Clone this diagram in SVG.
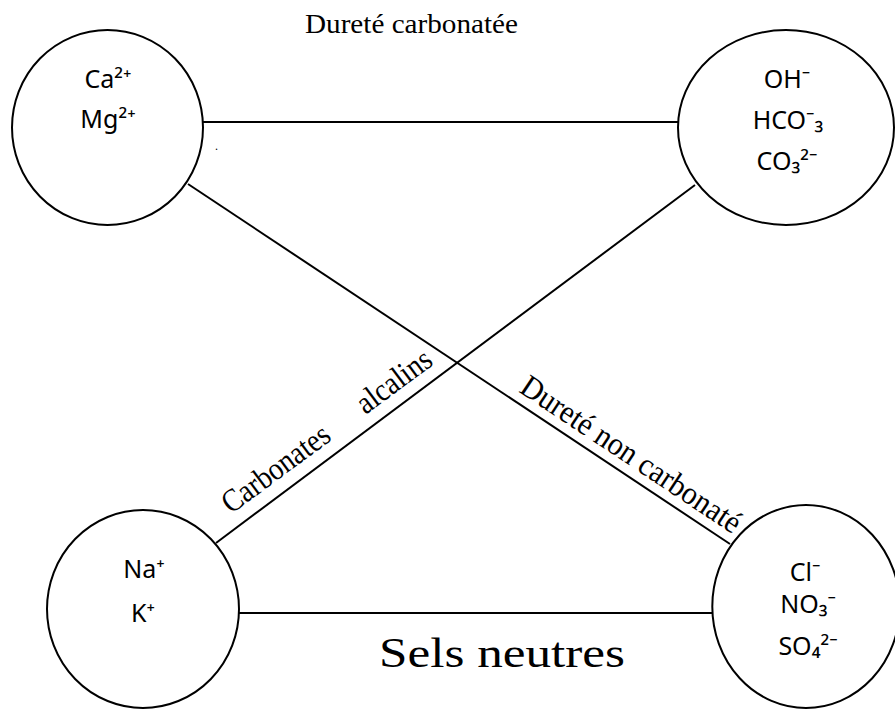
<svg xmlns="http://www.w3.org/2000/svg" width="895" height="709" viewBox="0 0 895 709">
<style>
.node{fill:#fff;stroke:#000;stroke-width:2}
.ion{font-family:"Noto Sans","DejaVu Sans",sans-serif;font-size:25px;fill:#000;text-anchor:middle}
.lbl{font-family:"Liberation Serif","Times New Roman",serif;fill:#000}
.edge{stroke:#000;stroke-width:2;fill:none}
</style>
<rect width="895" height="709" fill="#fff"/>
<g id="connectors">
<line class="edge" x1="203" y1="122" x2="678" y2="122"/>
<line class="edge" x1="239" y1="613" x2="712" y2="613"/>
<line class="edge" x1="188" y1="184" x2="730" y2="544"/>
<line class="edge" x1="216" y1="543" x2="695" y2="185"/>
</g>
<g id="node-cations-ca-mg">
<ellipse class="node" cx="107.5" cy="127.5" rx="95.5" ry="97.5"/>
<text class="ion" x="108" y="88">Ca²⁺</text>
<text class="ion" x="108" y="128">Mg²⁺</text>
</g>
<g id="node-anions-carbonate">
<ellipse class="node" cx="786" cy="127.5" rx="108" ry="97.5"/>
<text class="ion" x="787" y="88">OH⁻</text>
<text class="ion" x="788" y="129">HCO⁻₃</text>
<text class="ion" x="787" y="170">CO₃²⁻</text>
</g>
<g id="node-cations-na-k">
<ellipse class="node" cx="143" cy="609" rx="96" ry="99"/>
<text class="ion" x="144" y="578">Na⁺</text>
<text class="ion" x="143" y="622">K⁺</text>
</g>
<g id="node-anions-neutral">
<ellipse class="node" cx="806" cy="606.5" rx="93.7" ry="101.5"/>
<text class="ion" x="805" y="581">Cl⁻</text>
<text class="ion" x="808" y="613">NO₃⁻</text>
<text class="ion" x="808" y="655">SO₄²⁻</text>
</g>
<g id="labels">
<text class="lbl" x="305" y="33" font-size="28" textLength="213" lengthAdjust="spacingAndGlyphs">Dureté carbonatée</text>
<text class="lbl" x="215" y="150" font-size="12">.</text>
<text class="lbl" x="379" y="667" font-size="42" textLength="246" lengthAdjust="spacingAndGlyphs">Sels neutres</text>
<text class="lbl" font-size="32" transform="translate(231,514.5) rotate(-36.5) scale(0.88,1)">Carbonates <tspan x="190">alcalins</tspan></text>
<text class="lbl" font-size="32" transform="translate(518,391.5) rotate(33.6)" textLength="258" lengthAdjust="spacingAndGlyphs">Dureté non carbonaté</text>
</g>
</svg>
